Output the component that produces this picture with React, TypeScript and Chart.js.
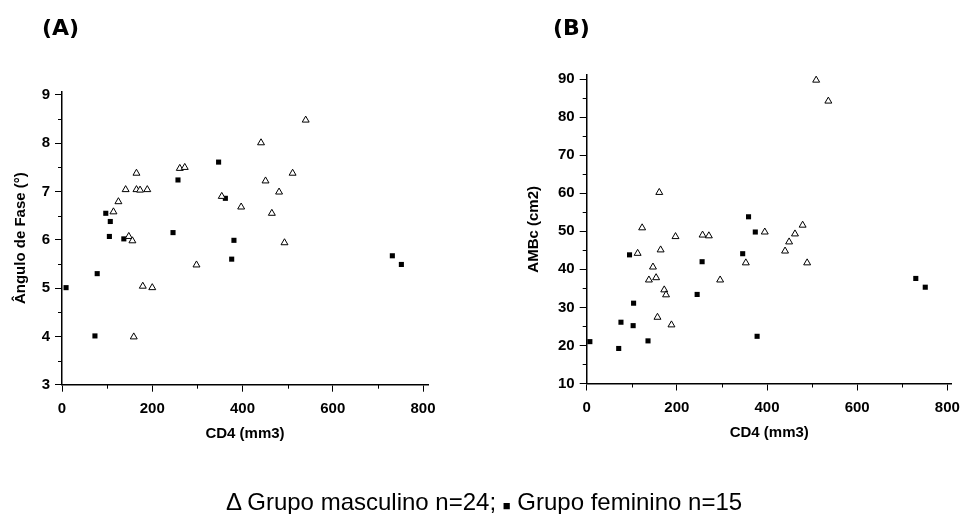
import React, { useEffect, useRef } from 'react';
import { Chart, registerables } from 'chart.js';

Chart.register(...registerables);

// ---------- Data ----------
// Panel (A): Ângulo de Fase vs CD4
const cd4MascA = [165, 141, 165, 173, 189, 125, 114, 148, 156, 179, 200, 159, 261, 272, 298, 354, 397, 441, 540, 511, 451, 481, 465, 493];
const anguloMasc = [7.38, 7.04, 7.04, 7.03, 7.04, 6.79, 6.58, 6.07, 5.98, 5.04, 5.01, 3.99, 7.48, 7.50, 5.48, 6.90, 6.68, 8.01, 8.48, 7.38, 7.22, 6.99, 6.55, 5.94];
const cd4FemA = [9, 78, 73, 97, 107, 105, 137, 246, 257, 347, 362, 381, 376, 732, 752];
const anguloFem = [5.01, 5.30, 4.01, 6.55, 6.38, 6.07, 6.02, 6.15, 7.24, 7.61, 6.86, 5.99, 5.60, 5.67, 5.49];

// Panel (B): AMBc vs CD4
const cd4MascB = [161, 123, 197, 113, 164, 147, 138, 154, 172, 176, 157, 188, 257, 271, 296, 509, 536, 395, 479, 462, 449, 440, 353, 489];
const ambcMasc = [60.2, 50.9, 48.6, 44.2, 45.1, 40.6, 37.2, 37.8, 34.6, 33.3, 27.4, 25.4, 49.0, 48.8, 37.2, 89.7, 84.2, 49.8, 51.6, 49.3, 47.2, 44.8, 41.7, 41.7];
const cd4FemB = [7, 71, 76, 95, 104, 103, 136, 245, 256, 359, 374, 346, 378, 730, 751];
const ambcFem = [21.0, 19.2, 26.1, 43.8, 31.1, 25.2, 21.2, 33.4, 42.0, 53.8, 49.8, 44.1, 22.4, 37.6, 35.3];

// Ticks
const X_TICKS = [0, 200, 400, 600, 800];
const X_MINOR = [100, 300, 500, 700];
const Y_TICKS_A = [3, 4, 5, 6, 7, 8, 9];
const Y_MINOR_A = [3.5, 4.5, 5.5, 6.5, 7.5, 8.5];
const Y_TICKS_B = [10, 20, 30, 40, 50, 60, 70, 80, 90];
const Y_MINOR_B = [15, 25, 35, 45, 55, 65, 75, 85];

const X_TITLE = 'CD4 (mm3)';
const Y_TITLE_A = 'Ângulo de Fase (°)';
const Y_TITLE_B = 'AMBc (cm2)';
const LEGEND_TEXT_1 = 'Δ Grupo masculino n=24; ';
const LEGEND_SQUARE = '■';
const LEGEND_TEXT_2 = ' Grupo feminino n=15';

const FONT = "'Liberation Sans', Arial, Helvetica, sans-serif";

const minorTicksPlugin = {
  id: 'minorTicks',
  afterDraw(chart: any, _args: any, opts: any) {
    const ctx = chart.ctx;
    const xs = chart.scales.x;
    const ys = chart.scales.y;
    const area = chart.chartArea;
    ctx.save();
    ctx.strokeStyle = '#000';
    ctx.lineWidth = 1;
    (opts.xMinor || []).forEach((v: number) => {
      const px = Math.round(xs.getPixelForValue(v)) + 0.5;
      ctx.beginPath();
      ctx.moveTo(px, area.bottom);
      ctx.lineTo(px, area.bottom + 4);
      ctx.stroke();
    });
    (opts.yMinor || []).forEach((v: number) => {
      const py = Math.round(ys.getPixelForValue(v)) + 0.5;
      ctx.beginPath();
      ctx.moveTo(area.left, py);
      ctx.lineTo(area.left - 4, py);
      ctx.stroke();
    });
    ctx.restore();
  },
};

function toPoints(xs: number[], ys: number[]) {
  return xs.map((x, i) => ({ x, y: ys[i] }));
}

function panelConfig(p: any): any {
  const tickFont = { family: FONT, size: 15, weight: 'bold' as const };
  const titleFont = { family: FONT, size: 15, weight: 'bold' as const };
  return {
    type: 'scatter',
    data: {
      datasets: [
        {
          label: 'Grupo masculino',
          data: toPoints(p.mx, p.my),
          pointStyle: 'triangle',
          pointRadius: 4,
          pointBackgroundColor: '#fff',
          pointBorderColor: '#000',
          pointBorderWidth: 1,
          clip: false,
        },
        {
          label: 'Grupo feminino',
          data: toPoints(p.fx, p.fy),
          pointStyle: 'rect',
          pointRadius: 3.6,
          pointBackgroundColor: '#000',
          pointBorderColor: '#000',
          pointBorderWidth: 0,
          clip: false,
        },
      ],
    },
    options: {
      responsive: false,
      animation: false,
      devicePixelRatio: 1,
      layout: { padding: p.padding },
      plugins: {
        legend: { display: false },
        tooltip: { enabled: false },
        minorTicks: { xMinor: X_MINOR, yMinor: p.yMinor },
      },
      scales: {
        x: {
          type: 'linear',
          min: 0,
          max: p.xMax,
          afterBuildTicks: (s: any) => {
            s.ticks = X_TICKS.map((v) => ({ value: v }));
          },
          afterFit: (s: any) => {
            s.height = 60;
          },
          border: { display: true, color: '#000', width: 1.5 },
          grid: { drawOnChartArea: false, drawTicks: true, tickLength: 7, color: '#000', lineWidth: 1 },
          ticks: { color: '#000', font: tickFont, padding: 8, maxRotation: 0, autoSkip: false },
          title: { display: true, text: X_TITLE, color: '#000', font: titleFont, padding: { top: 0, bottom: 2 } },
        },
        y: {
          type: 'linear',
          min: p.yMin,
          max: p.yMax,
          afterBuildTicks: (s: any) => {
            s.ticks = p.yTicks.map((v: number) => ({ value: v }));
          },
          afterFit: (s: any) => {
            s.width = p.yWidth;
          },
          border: { display: true, color: '#000', width: 1.5 },
          grid: { drawOnChartArea: false, drawTicks: true, tickLength: 7, color: '#000', lineWidth: 1 },
          ticks: { color: '#000', font: tickFont, padding: 5, autoSkip: false },
          title: { display: true, text: p.yTitle, color: '#000', font: titleFont, padding: { top: p.yTitlePad, bottom: 0 } },
        },
      },
    },
    plugins: [minorTicksPlugin],
  };
}

export default function App() {
  const refA = useRef<HTMLCanvasElement>(null);
  const refB = useRef<HTMLCanvasElement>(null);

  useEffect(() => {
    const chartA = new Chart(
      refA.current as HTMLCanvasElement,
      panelConfig({
        mx: cd4MascA,
        my: anguloMasc,
        fx: cd4FemA,
        fy: anguloFem,
        xMax: 811,
        yMin: 3,
        yMax: 9.07,
        yTicks: Y_TICKS_A,
        yMinor: Y_MINOR_A,
        yTitle: Y_TITLE_A,
        yWidth: 62,
        yTitlePad: 12,
        padding: { left: 0, top: 91.6, right: 540, bottom: 69.3 },
      })
    );
    const chartB = new Chart(
      refB.current as HTMLCanvasElement,
      panelConfig({
        mx: cd4MascB,
        my: ambcMasc,
        fx: cd4FemB,
        fy: ambcFem,
        xMax: 810,
        yMin: 10,
        yMax: 91,
        yTicks: Y_TICKS_B,
        yMinor: Y_MINOR_B,
        yTitle: Y_TITLE_B,
        yWidth: 86.7,
        yTitlePad: 25,
        padding: { left: 500, top: 75.2, right: 11.3, bottom: 70.5 },
      })
    );
    return () => {
      chartA.destroy();
      chartB.destroy();
    };
  }, []);

  const canvasStyle: React.CSSProperties = { position: 'absolute', left: 0, top: 0, width: 968, height: 514 };
  const panelLabel: React.CSSProperties = {
    position: 'absolute',
    top: 15,
    fontFamily: "'DejaVu Sans', sans-serif",
    fontWeight: 'bold',
    fontSize: 22,
    lineHeight: '26px',
    color: '#000',
    whiteSpace: 'nowrap',
  };

  return (
    <div style={{ position: 'absolute', left: 0, top: 0, width: 968, height: 514, background: '#fff', overflow: 'hidden' }}>
      <canvas ref={refA} width={968} height={514} style={canvasStyle} />
      <canvas ref={refB} width={968} height={514} style={canvasStyle} />
      <div style={{ ...panelLabel, left: 42 }}>(A)</div>
      <div style={{ ...panelLabel, left: 553 }}>(B)</div>
      <div
        style={{
          position: 'absolute',
          left: 0,
          top: 490,
          width: 968,
          textAlign: 'center',
          fontFamily: FONT,
          fontSize: 24,
          lineHeight: '24px',
          color: '#000',
          whiteSpace: 'nowrap',
        }}
      >
        {LEGEND_TEXT_1}
        <span style={{ fontSize: 13 }}>{LEGEND_SQUARE}</span>
        {LEGEND_TEXT_2}
      </div>
    </div>
  );
}
